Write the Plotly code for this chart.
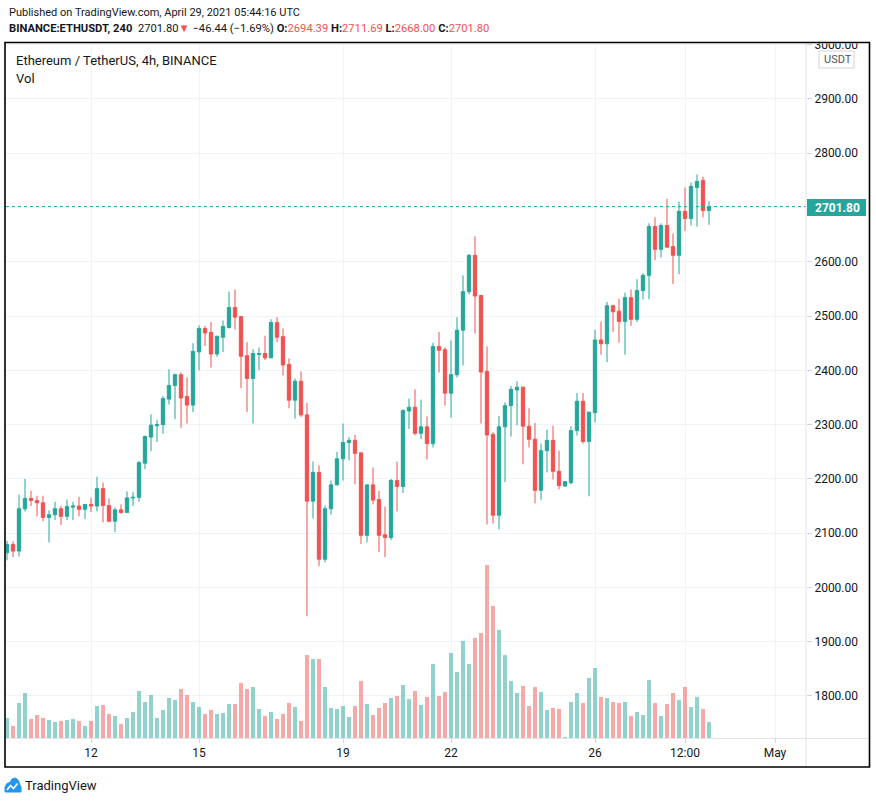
import plotly.graph_objects as go
import pandas as pd

# ---------------- data (ETH/USDT, Binance, 4h candles) ----------------
start_time = "2021-04-09 16:00"

opens = [2064, 2079, 2067, 2145, 2164, 2160, 2156, 2129, 2134, 2145,
         2131, 2148, 2150, 2144, 2153, 2150, 2182, 2151, 2122, 2143,
         2138, 2165, 2166, 2229, 2277, 2298, 2300, 2347, 2372, 2392,
         2352, 2336, 2434, 2477, 2470, 2430, 2461, 2479, 2516, 2499,
         2427, 2385, 2429, 2431, 2423, 2488, 2462, 2411, 2345, 2380,
         2318, 2159, 2212, 2052, 2145, 2189, 2237, 2267, 2271, 2248,
         2096, 2189, 2162, 2097, 2092, 2197, 2186, 2325, 2332, 2284,
         2296, 2265, 2444, 2438, 2358, 2392, 2474, 2545, 2612, 2538,
         2398, 2282, 2133, 2296, 2335, 2364, 2369, 2297, 2273, 2179,
         2252, 2271, 2214, 2187, 2193, 2289, 2343, 2269, 2322, 2456,
         2449, 2519, 2509, 2490, 2534, 2494, 2547, 2575, 2665, 2623,
         2667, 2628, 2612, 2693, 2680, 2737, 2750, 2694.39]

highs = [2086, 2085, 2171, 2200, 2178, 2169, 2169, 2142, 2158, 2150,
         2162, 2158, 2167, 2153, 2165, 2204, 2193, 2164, 2147, 2153,
         2177, 2176, 2233, 2280, 2319, 2309, 2353, 2402, 2394, 2396,
         2387, 2450, 2483, 2482, 2489, 2463, 2492, 2545, 2549, 2500,
         2452, 2439, 2442, 2464, 2494, 2498, 2477, 2422, 2385, 2398,
         2340, 2232, 2225, 2151, 2197, 2250, 2302, 2277, 2281, 2248,
         2189, 2221, 2178, 2149, 2200, 2232, 2328, 2348, 2365, 2346,
         2315, 2451, 2471, 2442, 2455, 2498, 2575, 2614, 2647, 2538,
         2444, 2286, 2316, 2341, 2371, 2380, 2370, 2330, 2303, 2265,
         2291, 2298, 2252, 2195, 2297, 2358, 2358, 2323, 2475, 2490,
         2526, 2521, 2532, 2543, 2549, 2568, 2579, 2671, 2682, 2671,
         2716, 2652, 2711, 2737, 2746, 2761, 2757, 2711.69]

lows = [2050, 2056, 2057, 2140, 2150, 2131, 2122, 2083, 2124, 2115,
        2124, 2124, 2131, 2126, 2139, 2140, 2120, 2120, 2102, 2136,
        2138, 2150, 2158, 2218, 2251, 2268, 2283, 2337, 2310, 2294,
        2302, 2323, 2400, 2445, 2405, 2425, 2434, 2477, 2475, 2367,
        2323, 2302, 2400, 2419, 2423, 2452, 2391, 2330, 2311, 2314,
        1947, 2127, 2039, 2046, 2134, 2188, 2197, 2234, 2190, 2080,
        2083, 2153, 2065, 2056, 2087, 2140, 2174, 2292, 2280, 2273,
        2236, 2258, 2396, 2335, 2313, 2387, 2409, 2540, 2468, 2302,
        2116, 2118, 2107, 2194, 2278, 2299, 2227, 2258, 2155, 2161,
        2212, 2199, 2181, 2185, 2190, 2280, 2265, 2168, 2304, 2429,
        2415, 2471, 2451, 2429, 2482, 2489, 2531, 2531, 2603, 2608,
        2627, 2559, 2577, 2657, 2667, 2665, 2682, 2668.00]

closes = [2079, 2067, 2145, 2164, 2160, 2156, 2129, 2134, 2145, 2131,
          2149, 2150, 2144, 2153, 2150, 2182, 2151, 2122, 2143, 2138,
          2165, 2166, 2230, 2278, 2299, 2300, 2348, 2372, 2392, 2349,
          2336, 2435, 2477, 2469, 2430, 2463, 2481, 2516, 2498, 2426,
          2385, 2431, 2431, 2423, 2488, 2461, 2410, 2345, 2380, 2318,
          2159, 2212, 2052, 2145, 2189, 2237, 2267, 2271, 2247, 2096,
          2189, 2161, 2096, 2092, 2197, 2186, 2326, 2332, 2284, 2296,
          2265, 2444, 2437, 2358, 2392, 2474, 2545, 2612, 2537, 2397,
          2281, 2133, 2296, 2335, 2365, 2369, 2297, 2273, 2179, 2252,
          2271, 2214, 2188, 2195, 2289, 2343, 2269, 2323, 2456, 2449,
          2519, 2508, 2490, 2534, 2494, 2547, 2575, 2665, 2623, 2667,
          2627, 2612, 2693, 2680, 2739, 2748.24, 2694.39, 2701.80]

# volume (thousand ETH, estimated)
volumes = [61, 37, 106, 136, 58, 70, 61, 55, 49, 52,
           55, 58, 52, 37, 52, 97, 100, 73, 67, 43,
           61, 79, 142, 109, 130, 61, 85, 121, 115, 148,
           130, 109, 94, 73, 85, 73, 76, 103, 103, 166,
           148, 154, 88, 67, 79, 58, 73, 106, 94, 52,
           250, 238, 238, 154, 91, 88, 97, 64, 97, 172,
           102, 69, 90, 105, 120, 126, 159, 117, 141, 99,
           123, 222, 126, 138, 255, 198, 291, 222, 300, 315,
           519, 396, 324, 249, 171, 135, 156, 96, 153, 138,
           84, 90, 87, 3, 108, 135, 105, 180, 210, 123,
           120, 108, 105, 108, 66, 78, 69, 174, 105, 66,
           102, 135, 114, 153, 93, 123, 87, 48]

x_tick_dates = ["2021-04-12", "2021-04-15", "2021-04-19", "2021-04-22",
                "2021-04-26", "2021-04-28 12:00", "2021-05-01"]
x_tick_labels = ["12", "15", "19", "22", "26", "12:00", "May"]
price_ticks = list(range(1800, 3001, 100))
last_price = 2701.80

# ---------------- styling ----------------
GREEN = "#26a69a"
RED = "#ef5350"
TEXT = "#131722"
GRID = "#f0f3fa"
SEP = "#e0e3eb"
FONT = "Roboto"

times = pd.date_range(start_time, periods=len(opens), freq="4h")
bar_ms = 4 * 3600 * 1000
vol_colors = ["rgba(38,166,154,0.5)" if c >= o else "rgba(239,83,80,0.5)"
              for o, c in zip(opens, closes)]

W, H = 876, 803
L, R, T, B = 6, 806, 42, 738


def px(x):
    return (x - L) / (R - L)


def py(y):
    return (B - y) / (B - T)


t0 = pd.Timestamp(start_time)
x_left = t0 - pd.Timedelta(minutes=40)
x_right = t0 + pd.Timedelta(minutes=int(133.1667 * 240))

# hide the 2700 label (covered by the last-price tag) but keep its gridline
price_labels = ["" if v == 2700 else f"{v:.2f}" for v in price_ticks]

fig = go.Figure()
fig.add_trace(go.Bar(x=times, y=volumes, marker_color=vol_colors,
                     marker_line_width=0, width=bar_ms * 0.8,
                     yaxis="y2", hoverinfo="skip", showlegend=False))
fig.add_trace(go.Candlestick(
    x=times, open=opens, high=highs, low=lows, close=closes,
    increasing=dict(line=dict(color=GREEN, width=1), fillcolor=GREEN),
    decreasing=dict(line=dict(color=RED, width=1), fillcolor=RED),
    showlegend=False))

shapes = [
    # clip top of price-axis labels
    dict(type="rect", xref="paper", yref="paper", x0=px(807), x1=px(868),
         y0=py(20), y1=py(43.5), fillcolor="white", line=dict(width=0), layer="above"),
    # last price dotted line
    dict(type="line", xref="paper", yref="y", x0=0, x1=1, y0=last_price, y1=last_price,
         line=dict(color=GREEN, width=1, dash="dot"), layer="above"),
    # separators
    dict(type="line", xref="paper", yref="paper", x0=px(806), x1=px(806),
         y0=py(42), y1=py(767), line=dict(color=SEP, width=1), layer="above"),
    dict(type="line", xref="paper", yref="paper", x0=px(6), x1=px(869),
         y0=py(738.5), y1=py(738.5), line=dict(color=SEP, width=1), layer="above"),
    # price label box
    dict(type="rect", xref="paper", yref="paper", x0=px(807), x1=px(866),
         y0=py(216), y1=py(199), fillcolor=GREEN, line=dict(width=0), layer="above"),
    # USDT box
    dict(type="rect", xref="paper", yref="paper", x0=px(819), x1=px(854),
         y0=py(68), y1=py(51), fillcolor="white",
         line=dict(color="#d1d4dc", width=1), layer="above"),
    # outer frame
    dict(type="rect", xref="paper", yref="paper", x0=px(5), x1=px(869.5),
         y0=py(767), y1=py(42.5), line=dict(color="black", width=1.6), layer="above"),
]

# TradingView logo (approximation)
logo_pts = [(5, 792), (5, 787), (7, 783.5), (10, 782.5), (12, 779), (15.5, 778),
            (18.5, 780.5), (19.5, 784), (21, 787), (21, 792)]
path = "M " + " L ".join(f"{px(a):.5f},{py(b):.5f}" for a, b in logo_pts) + " Z"
shapes.append(dict(type="path", xref="paper", yref="paper", path=path,
                   fillcolor="#2196f3", line=dict(color="#2196f3", width=1), layer="above"))
zig = [(7, 790), (10.5, 785.5), (13.5, 788.5), (17.5, 783.5)]
zpath = "M " + " L ".join(f"{px(a):.5f},{py(b):.5f}" for a, b in zig)
shapes.append(dict(type="path", xref="paper", yref="paper", path=zpath,
                   line=dict(color="white", width=1.6), layer="above"))

red_span = lambda s: f"<span style='color:{RED}'>{s}</span>"
line2 = ("<b>BINANCE:ETHUSDT, 240</b>  2701.80" + red_span("▼") + " −46.44 (−1.69%) "
         "<b>O:</b>" + red_span("2694.39") + " <b>H:</b>" + red_span("2711.69") +
         " <b>L:</b>" + red_span("2668.00") + " <b>C:</b>" + red_span("2701.80"))

annotations = [
    dict(text="Published on TradingView.com, April 29, 2021 05:44:16 UTC",
         x=px(7), y=py(13), font=dict(size=11, color=TEXT)),
    dict(text=line2, x=px(7), y=py(29), font=dict(size=11.2, color=TEXT)),
    dict(text="Ethereum / TetherUS, 4h, BINANCE", x=px(14), y=py(61),
         font=dict(size=13, color=TEXT)),
    dict(text="Vol", x=px(14), y=py(78), font=dict(size=13, color=TEXT)),
    dict(text="<b>2701.80</b>", x=px(813), y=py(207.5), font=dict(size=12, color="white")),
    dict(text="USDT", x=px(822.5), y=py(59.5), font=dict(size=11, color="#50535e")),
    dict(text="TradingView", x=px(23), y=py(785), font=dict(size=13, color=TEXT)),
]
for a in annotations:
    a.update(xref="paper", yref="paper", xanchor="left", yanchor="middle",
             showarrow=False)

fig.update_layout(
    width=W, height=H,
    margin=dict(l=L, r=W - R, t=T, b=H - B),
    paper_bgcolor="white", plot_bgcolor="white",
    font=dict(family=FONT, color=TEXT, size=12),
    boxgap=0.2,
    bargap=0,
    showlegend=False,
    xaxis=dict(type="date", range=[x_left, x_right],
               tickvals=x_tick_dates, ticktext=x_tick_labels,
               showgrid=True, gridcolor=GRID, gridwidth=1,
               ticks="outside", ticklen=4, tickcolor="#d1d4dc",
               showline=False, zeroline=False,
               rangeslider=dict(visible=False),
               tickfont=dict(family=FONT, size=12, color=TEXT)),
    yaxis=dict(side="right", range=[1722.6, 3005.0],
               tickvals=price_ticks, ticktext=price_labels,
               showgrid=True, gridcolor=GRID, gridwidth=1,
               ticks="outside", ticklen=5, tickcolor="#d1d4dc",
               showline=False, zeroline=False,
               tickfont=dict(family=FONT, size=12, color=TEXT)),
    yaxis2=dict(overlaying="y", range=[0, 2088], visible=False, showgrid=False),
    shapes=shapes,
    annotations=annotations,
)

fig.write_html("out.html", config={"displayModeBar": False},
               post_script="document.body.style.margin='0';document.body.style.overflow='hidden';")
